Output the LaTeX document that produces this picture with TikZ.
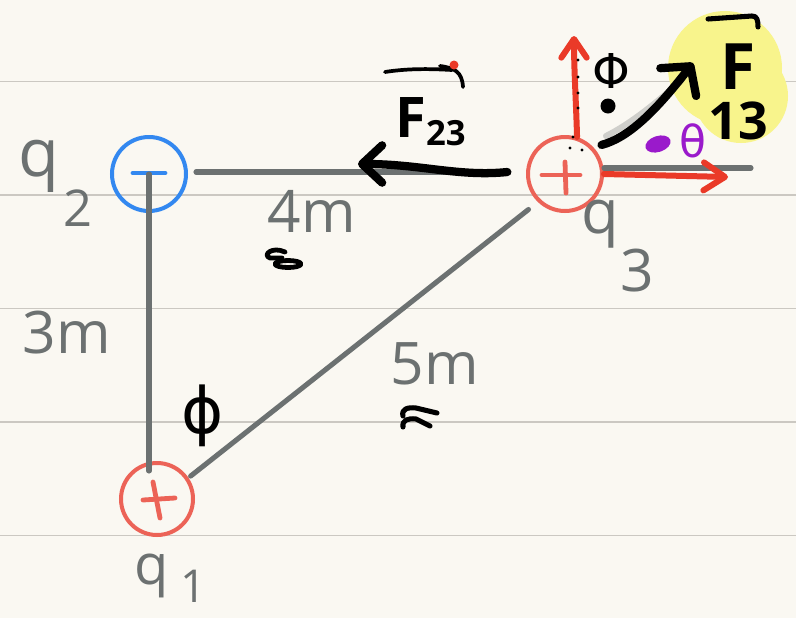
\documentclass[tikz,border=0pt]{standalone}
\usepackage{fontspec}
\setmainfont{Open Sans}
\newfontfamily\grk{DejaVu Sans}
\usetikzlibrary{arrows.meta,calc}
\definecolor{paper}{HTML}{FAF8F2}
\definecolor{rulecol}{HTML}{CBC8C2}
\definecolor{pengray}{HTML}{6C7171}
\definecolor{penblue}{HTML}{3388F0}
\definecolor{penred}{HTML}{EC6357}
\definecolor{arrowred}{HTML}{EA3A28}
\definecolor{penpurple}{HTML}{9A1ACB}
\definecolor{hilite}{HTML}{F8F48C}
\begin{document}
\begin{tikzpicture}[x=0.75pt,y=-0.75pt,
  gline/.style={draw=pengray, line width=3.8pt, line cap=round},
  charge/.style={circle, minimum size=#1, inner sep=0pt, line width=3pt},
  signstroke/.style={line width=3.6pt, line cap=round},
  redarrow/.style={draw=arrowred, line width=4.5pt, line cap=round},
  blkarrow/.style={draw=black, line width=6.2pt, line cap=round},
  ink/.style={draw=black, line width=3pt, line cap=round, line join=round},
  graytxt/.style={text=pengray, inner sep=0pt},
  blacktxt/.style={text=black, inner sep=0pt},
  fs/.style={font=\fontsize{#1}{#1}\selectfont}]
\useasboundingbox (0,0) rectangle (796,618);
\fill[paper] (0,0) rectangle (796,618);
\foreach \yy in {81.7,195.2,308.7,422.2,535.7}
  \draw[rulecol, line width=1.1pt] (0,\yy) -- (796,\yy);
% highlighter
\fill[hilite] (725,68) circle[radius=57] (741,96) circle[radius=47];

% charges
\node[charge=55.5pt, draw=penblue] (q2) at (149,174) {};
\node[charge=55.5pt, draw=penred] (q3) at (565,174) {};
\node[charge=54pt, draw=penred] (q1) at (157,499) {};
\draw[signstroke, penblue] (q2.center) ++(-16,-1) -- ++(32,0);
\draw[signstroke, penred] (q3.center) ++(-23,1) -- ++(38,0);
\draw[signstroke, penred] (q3.center) ++(0,-12) -- ++(1,31);
\draw[signstroke, penred] (q1.center) ++(-14,1) -- ++(32,-2);
\draw[signstroke, penred] (q1.center) ++(-4,-17) -- ++(7,36);

% triangle sides
\draw[gline] (q2.center) -- ($(q2.center |- q1.north)+(0,10)$);
\draw[gline] ([xshift=6pt,yshift=1.5pt]q2.east) -- ([xshift=-14pt,yshift=1.5pt]q3.west);
\draw[gline] ([yshift=4.5pt]q3.east) -- ++(147,0);
\draw[gline, shorten >=9pt, shorten <=2pt] (q1.34) -- (q3.226);
\draw[pengray, opacity=0.3, line width=4.5pt, line cap=round] (606,136) .. controls (630,124) and (655,104) .. (682,80);

% labels of charges and distances
\node[graytxt, fs=50pt, anchor=base west] (q2lab) at (18,176) {q\hspace{3pt}\raisebox{-38pt}{\fontsize{38pt}{38pt}\selectfont 2}};
\node[graytxt, fs=42pt, anchor=base west] (q1lab) at (134,584) {q\hspace{9pt}\raisebox{-14pt}{\fontsize{34pt}{34pt}\selectfont 1}};
\node[graytxt, fs=46pt, anchor=base west] (q3lab) at (581,233) {q\hspace{1pt}\raisebox{-44pt}{\fontsize{44pt}{44pt}\selectfont 3}};
\node[graytxt, fs=44pt] (d4) at (312,211) {4m};
\node[graytxt, fs=44pt] (d3) at (67,333) {3m};
\node[graytxt, fs=44pt] (d5) at (435,364) {5m};

% force arrows
\coordinate (f23tip) at (358,164);
\coordinate (uptip) at (574,36);
\coordinate (rtip) at (728,177);
\coordinate (f13tip) at (693,63);
\draw[blkarrow, -{Straight Barb[length=15pt,width=28pt,round]}] ([xshift=-14pt,yshift=1.5pt]q3.west) .. controls (460,177) and (420,164) .. (f23tip);
\draw[redarrow, -{Straight Barb[length=14pt,width=19pt,round]}] (q3.72) .. controls (576,100) and (574,70) .. (uptip);
\draw[redarrow, -{Straight Barb[length=16pt,width=21pt,round]}] (q3.east) -- (rtip);
\draw[blkarrow, -{Straight Barb[length=15pt,width=34pt,round]}] ([shift={(5pt,3pt)}]q3.40) .. controls (628,138) and (655,112) .. (f13tip);

% small dots along the vertical arrow
\foreach \p in {(578,60),(578,77),(578,93),(578,108),(573,137),(570,148),(582,150)}
  \fill \p circle[radius=1.6];

% F23 label
\node[blacktxt, font=\bfseries\fontsize{42pt}{42pt}\selectfont, anchor=base west] (f23lab) at (395,137) {F{\fontsize{26pt}{26pt}\selectfont\raisebox{-6pt}{23}}};
\draw[ink, line width=2.8pt] (385,72) .. controls (410,68) and (435,69) .. (452,70);
\draw[ink, line width=2.8pt] (440,66) .. controls (455,68) and (462,72) .. (463,87);
\fill[arrowred] (454,65) circle[radius=4.5];

% F13 label
\node[blacktxt, font=\bfseries\fontsize{48pt}{37.5pt}\selectfont, align=center] (f13lab) at (738,92) {F\\{\fontsize{39pt}{37.5pt}\selectfont 13}};
\draw[ink, line width=3.8pt] (708,19) -- (752,16) .. controls (757,16) and (758,20) .. (758,27);

% angles
\node[blacktxt, font=\grk\fontsize{36pt}{36pt}\selectfont] (phitop) at (611,71) {Φ};
\fill (608,106) circle[radius=7.5];
\node[blacktxt, font=\grk\fontsize{48pt}{48pt}\selectfont] (phibot) at (203,416) {ϕ};
\fill[penpurple, rotate around={18:(658,144)}] (658,144) ellipse[x radius=13, y radius=8];
\node[text=penpurple, inner sep=0pt, font=\grk\fontsize{33pt}{33pt}\selectfont] (theta) at (693,141) {θ};

% scribbles
\draw[ink, line width=3.6pt] (285,252) .. controls (272,246) and (262,255) .. (270,258) -- (282,258);
\draw[ink, line width=3.6pt] (288,264) ellipse[x radius=13, y radius=3.5];
\draw[ink, line width=3.8pt] (403,416) .. controls (401,409) and (408,407) .. (416,408) -- (437,413);
\draw[ink, line width=3.8pt] (403,427) .. controls (402,420) and (408,418) .. (416,419) -- (430,426);
\end{tikzpicture}
\end{document}
